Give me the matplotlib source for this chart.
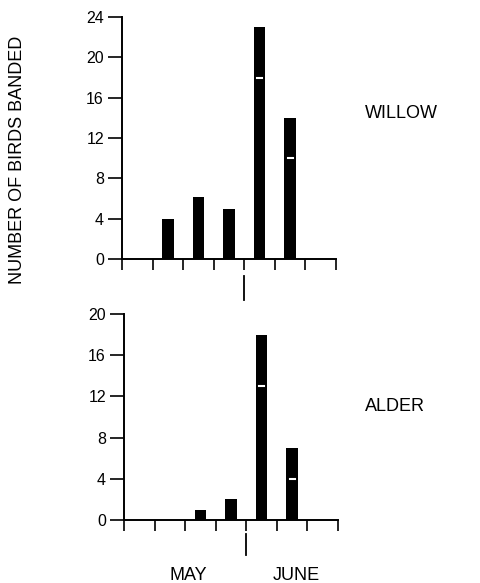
import numpy as np
import matplotlib
matplotlib.use("Agg")
from matplotlib import pyplot as plt
from matplotlib import transforms

plt.rcParams['font.family'] = ['Liberation Sans', 'DejaVu Sans']

# weekly periods on the x axis (0..7), May/June boundary at 4
willow_x = [1.5, 2.5, 3.5, 4.5, 5.5]
willow_n = [4, 6.2, 5, 23, 14]
willow_mark_x = [4.5, 5.5]
willow_mark = [18, 10]

alder_x = [2.5, 3.5, 4.5, 5.5]
alder_n = [1, 2, 18, 7]
alder_mark_x = [4.5, 5.5]
alder_mark = [13, 4]

willow_ticks = [0, 4, 8, 12, 16, 20, 24]
alder_ticks = [0, 4, 8, 12, 16, 20]
month_split = 4
months = ['MAY', 'JUNE']
month_pos = [2.1, 5.65]


def style_axis(ax, ymax, yticks):
    ax.set_xlim(0, 7)
    ax.set_ylim(0, ymax)
    ax.set_xticks(range(8))
    ax.set_xticklabels([])
    ax.set_yticks(yticks)
    ax.spines['top'].set_visible(False)
    ax.spines['right'].set_visible(False)
    ax.spines['left'].set_linewidth(1.4)
    ax.spines['bottom'].set_linewidth(1.4)
    ax.tick_params(axis='y', direction='out', length=10, width=1.2,
                   labelsize=11.5, pad=3)
    ax.tick_params(axis='x', direction='out', length=8, width=1.2)


def draw_panel(ax, xs, ns, mx, mv):
    ax.bar(xs, ns, width=0.38, color='black', zorder=2)
    for x, v in zip(mx, mv):
        ax.plot([x - 0.08, x + 0.08], [v, v], color='white', lw=1.5, zorder=3)
    trans = transforms.blended_transform_factory(ax.transData, ax.transAxes)
    ax.plot([month_split, month_split], [-0.07, -0.17], color='black',
            lw=1.3, transform=trans, clip_on=False)


fig = plt.figure(figsize=(4.81, 5.83), dpi=100)
ax1 = fig.add_axes([0.2536, 0.5557, 0.445, 0.415])
ax2 = fig.add_axes([0.2578, 0.108, 0.445, 0.3533])

draw_panel(ax1, willow_x, willow_n, willow_mark_x, willow_mark)
style_axis(ax1, 24, willow_ticks)
draw_panel(ax2, alder_x, alder_n, alder_mark_x, alder_mark)
style_axis(ax2, 20, alder_ticks)

fig.text(0.758, 0.806, 'WILLOW', fontsize=13, va='center')
fig.text(0.758, 0.302, 'ALDER', fontsize=13, va='center')
fig.text(0.036, 0.725, 'NUMBER OF BIRDS BANDED', fontsize=13,
         rotation=90, va='center', ha='center')

for name, pos in zip(months, month_pos):
    ax2.text(pos, -0.27, name, fontsize=13, ha='center', va='center',
             transform=transforms.blended_transform_factory(ax2.transData,
                                                             ax2.transAxes))

fig.savefig('out.png', dpi=100)
